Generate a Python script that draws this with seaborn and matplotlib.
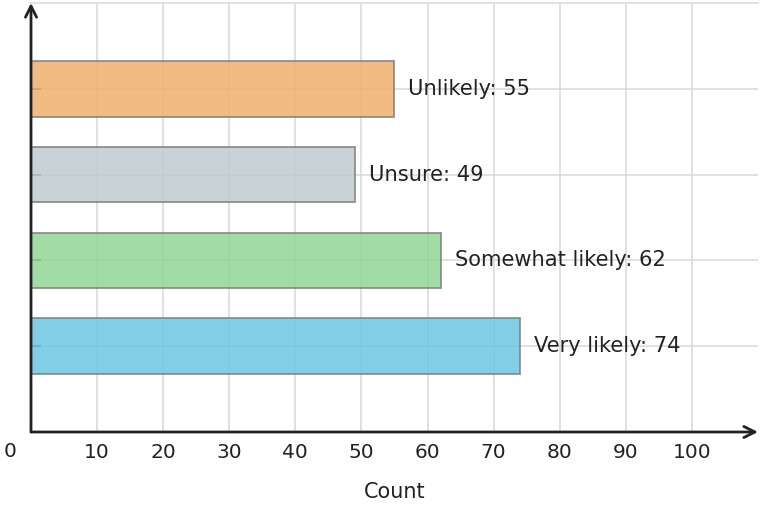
import matplotlib
matplotlib.use("Agg")
import matplotlib.pyplot as plt
import pandas as pd
import seaborn as sns

# ---------------------------------------
# Data
# ---------------------------------------

categories = ["Unlikely", "Unsure", "Somewhat likely", "Very likely"]
counts = [55, 49, 62, 74]
colors = ["#F1B06E", "#C0CACF", "#92D695", "#6DC6E3"]
x_ticks = list(range(0, 101, 10))

df = pd.DataFrame({"category": categories, "count": counts})

# ---------------------------------------
# Figure
# ---------------------------------------

sns.set_style("white")
plt.rcParams["font.family"] = ["DejaVu Sans"]

fig = plt.figure(figsize=(7.63, 5.08), dpi=100)
ax = fig.add_axes([31 / 763, 1 - 432 / 508, 727 / 763, 429 / 508])

sns.barplot(
    data=df,
    x="count",
    y="category",
    hue="category",
    palette=colors,
    order=categories,
    orient="h",
    width=0.65,
    alpha=0.85,
    saturation=1,
    edgecolor="#7f7f7f",
    linewidth=1.3,
    legend=False,
    ax=ax,
)

ax.set_xlim(0, 110)
ax.set_ylim(4, -1)
ax.set_axisbelow(True)

ax.set_xticks(x_ticks)
ax.set_xticklabels([""] + [str(t) for t in x_ticks[1:]])
ax.set_yticks(range(len(categories)))
ax.set_yticklabels([])

ax.tick_params(axis="x", direction="in", length=4, width=1.5,
               color="#222222", labelsize=14.5, labelcolor="#222222", pad=8)
ax.tick_params(axis="y", direction="in", length=7, width=1.5,
               color="#555555", left=True)

ax.grid(True, color="#d9d9d9", linewidth=1.1)

for side in ["left", "bottom", "right"]:
    ax.spines[side].set_visible(False)
ax.spines["top"].set_color("#d9d9d9")
ax.spines["top"].set_linewidth(1.1)

# axis arrows
ax.annotate("", xy=(1.0, 0), xytext=(0, 0), xycoords="axes fraction",
            arrowprops=dict(arrowstyle="->", color="#222222", lw=2,
                            mutation_scale=20, shrinkA=0, shrinkB=0))
ax.annotate("", xy=(0, 1.0), xytext=(0, 0), xycoords="axes fraction",
            arrowprops=dict(arrowstyle="->", color="#222222", lw=2,
                            mutation_scale=20, shrinkA=0, shrinkB=0))

# "0" label sits left of the y axis
ax.annotate("0", xy=(0, 0), xycoords="axes fraction", xytext=(-15, -14),
            textcoords="offset points", ha="center", va="center",
            fontsize=14.5, color="#222222")

ax.set_xlabel("Count", fontsize=15, color="#222222", labelpad=14.5)
ax.set_ylabel("")

# value labels
for i, (cat, val) in enumerate(zip(categories, counts)):
    ax.annotate(f"{cat}: {val}", xy=(val, i), xytext=(10, 0),
                textcoords="offset points", ha="left", va="center",
                fontsize=15.1, color="#222222")

fig.savefig("out.png", dpi=100)
plt.close(fig)
